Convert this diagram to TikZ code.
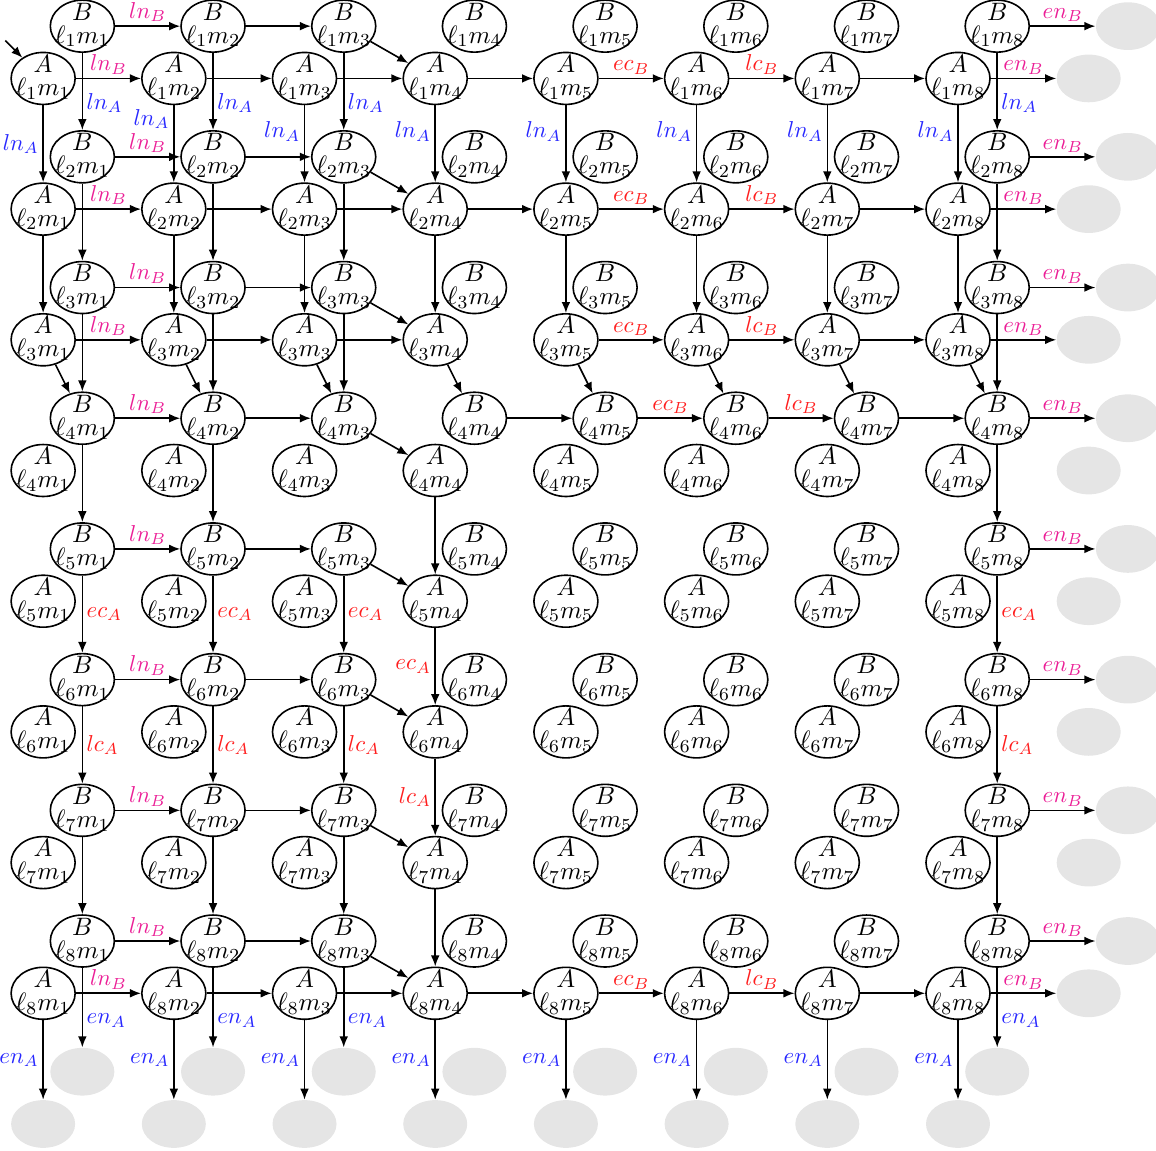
\documentclass[tikz,border=0pt]{standalone}
\usepackage{tikz}
\usetikzlibrary{arrows.meta, shapes.geometric}
\definecolor{azulEtq}{HTML}{2828FF}
\definecolor{rosaEtq}{HTML}{EB1E96}
\definecolor{rojoEtq}{HTML}{FF1E1E}
\definecolor{grisFantasma}{HTML}{E5E5E5}
\tikzset{
  estadoBase/.style={
    ellipse, draw, line width=0.7pt,
    inner xsep=0pt, inner ysep=-3pt,
    minimum width=0.98cm, minimum height=0.73cm
  },
  estadoFantasma/.style={ellipse, fill=grisFantasma, inner sep=0pt,
    minimum width=0.98cm, minimum height=0.73cm},
  flecha/.style={-{Latex[length=4.8pt, width=3.8pt]}, line width=0.7pt},
  etqA/.style={text=azulEtq, inner sep=1.5pt},
  etqB/.style={text=rosaEtq, inner sep=1.5pt},
  etqR/.style={text=rojoEtq, inner sep=1.5pt},
}
\newcommand{\etiqEstado}[3]{\fontsize{10.95}{12}\selectfont
  \makebox[0pt]{$\begin{array}{@{}c@{}}#1\\[-2pt]\ell_{#2}m_{#3}\end{array}$}}

\begin{document}
\begin{tikzpicture}
  \useasboundingbox (1.34,-18.40) rectangle (19.03,-0.80);
  % estados
  \foreach \fila in {1,...,8}{
    \foreach \col in {1,...,8}{
      \node[estadoBase] (A\fila\col) at (2*\col,-2*\fila) {\etiqEstado{A}{\fila}{\col}};
      \node[estadoBase] (B\fila\col) at (2*\col+0.6,-2*\fila+0.8) {\etiqEstado{B}{\fila}{\col}};
    }
  }
  % estados de salida (grises)
  \foreach \fila in {1,...,8}{
    \node[estadoFantasma] (A\fila9) at (18,-2*\fila) {};
    \node[estadoFantasma] (B\fila9) at (18.6,-2*\fila+0.8) {};
  }
  \foreach \col in {1,...,8}{
    \node[estadoFantasma] (A9\col) at (2*\col,-18) {};
    \node[estadoFantasma] (B9\col) at (2*\col+0.6,-17.2) {};
  }

  \coordinate (inicio) at (1.42,-1.42);
  \draw[flecha] (inicio) -- (A11);

  % horizontales
  \foreach \fila in {1,...,8}{
    \draw[flecha] (B\fila1) -- node[etqB, above] {$ln_B$} (B\fila2);
    \draw[flecha] (B\fila2) -- (B\fila3);
    \draw[flecha] (B\fila3) -- (A\fila4);
    \draw[flecha] (B\fila8) -- node[etqB, above] {$en_B$} (B\fila9);
  }
  \foreach \fila in {1,2,3,8}{
    \draw[flecha] (A\fila1) -- node[etqB, above] {$ln_B$} (A\fila2);
    \draw[flecha] (A\fila2) -- (A\fila3);
    \draw[flecha] (A\fila3) -- (A\fila4);
    \draw[flecha] (A\fila5) -- node[etqR, above] {$ec_B$} (A\fila6);
    \draw[flecha] (A\fila6) -- node[etqR, above] {$lc_B$} (A\fila7);
    \draw[flecha] (A\fila7) -- (A\fila8);
    \draw[flecha] (A\fila8) -- node[etqB, above] {$en_B$} (A\fila9);
  }
  \foreach \fila in {1,2,8}
    \draw[flecha] (A\fila4) -- (A\fila5);
  \draw[flecha] (B44) -- (B45);
  \draw[flecha] (B45) -- node[etqR, above] {$ec_B$} (B46);
  \draw[flecha] (B46) -- node[etqR, above] {$lc_B$} (B47);
  \draw[flecha] (B47) -- (B48);

  % verticales
  \foreach \col/\p in {1/0.5, 2/0.18, 3/0.34, 4/0.34, 5/0.34, 6/0.34, 7/0.34, 8/0.34}{
    \draw[flecha] (A1\col) -- node[etqA, left, pos=\p] {$ln_A$} (A2\col);
    \draw[flecha] (A2\col) -- (A3\col);
    \draw[flecha] (A3\col) -- (B4\col);
    \draw[flecha] (A8\col) -- node[etqA, left] {$en_A$} (A9\col);
  }
  \foreach \col in {1,2,3,8}{
    \draw[flecha] (B1\col) -- node[etqA, right, pos=0.65] {$ln_A$} (B2\col);
    \draw[flecha] (B2\col) -- (B3\col);
    \draw[flecha] (B3\col) -- (B4\col);
    \draw[flecha] (B5\col) -- node[etqR, right] {$ec_A$} (B6\col);
    \draw[flecha] (B6\col) -- node[etqR, right] {$lc_A$} (B7\col);
    \draw[flecha] (B7\col) -- (B8\col);
    \draw[flecha] (B8\col) -- node[etqA, right, pos=0.66] {$en_A$} (B9\col);
  }
  \foreach \col in {1,2,8}
    \draw[flecha] (B4\col) -- (B5\col);
  \draw[flecha] (A44) -- (A54);
  \draw[flecha] (A54) -- node[etqR, left] {$ec_A$} (A64);
  \draw[flecha] (A64) -- node[etqR, left] {$lc_A$} (A74);
  \draw[flecha] (A74) -- (A84);
\end{tikzpicture}
\end{document}
